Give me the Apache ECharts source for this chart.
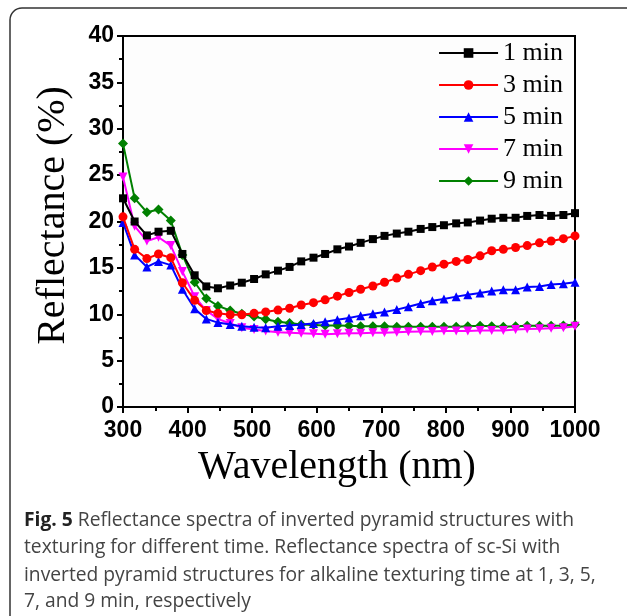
<!DOCTYPE html>
<html><head><meta charset="utf-8">
<script src="https://cdn.jsdelivr.net/npm/echarts@6/dist/echarts.min.js"></script>
<style>html,body{margin:0;padding:0;background:#fff}#c{width:627px;height:616px}</style>
</head><body><div id="c"></div>
<script>
const wavelengths = [300,318,337,355,374,392,411,429,447,466,484,503,521,540,558,576,595,613,632,650,668,687,705,724,742,761,779,797,816,834,853,871,889,908,926,945,963,982,1000];
const min1 = [22.5,20.0,18.5,18.9,19.0,16.5,14.2,13.0,12.8,13.1,13.4,13.8,14.3,14.7,15.1,15.7,16.1,16.5,17.0,17.3,17.7,18.1,18.45,18.7,18.9,19.2,19.4,19.6,19.8,19.9,20.1,20.3,20.4,20.4,20.6,20.7,20.6,20.7,20.9];
const min3 = [20.5,17.0,16.0,16.5,16.1,13.4,11.5,10.4,10.1,9.95,9.95,10.1,10.25,10.45,10.65,11.0,11.25,11.55,11.95,12.35,12.7,13.05,13.45,13.9,14.3,14.7,15.1,15.4,15.7,15.9,16.3,16.85,17.0,17.2,17.4,17.7,17.9,18.15,18.45];
const min5 = [19.9,16.4,15.1,15.7,15.3,12.7,10.6,9.5,9.1,8.9,8.7,8.6,8.55,8.7,8.8,8.9,9.0,9.2,9.4,9.6,9.85,10.05,10.25,10.5,10.8,11.15,11.45,11.65,11.9,12.1,12.3,12.5,12.65,12.65,12.95,13.0,13.2,13.3,13.45];
const min7 = [24.8,19.5,17.9,18.3,17.4,14.6,11.9,10.4,9.5,9.0,8.55,8.35,8.2,8.05,8.0,7.95,7.9,7.85,7.9,7.95,7.95,8.0,8.0,8.05,8.1,8.15,8.15,8.2,8.2,8.2,8.25,8.25,8.25,8.35,8.4,8.45,8.5,8.55,8.7];
const min9 = [28.4,22.5,21.0,21.3,20.1,16.4,13.45,11.7,10.9,10.4,10.05,9.75,9.45,9.2,9.05,8.9,8.85,8.8,8.8,8.75,8.7,8.7,8.7,8.65,8.65,8.65,8.65,8.65,8.65,8.7,8.75,8.7,8.65,8.7,8.75,8.75,8.75,8.8,8.9];
const seriesNames = ['1 min','3 min','5 min','7 min','9 min'];
const xTicks = {min:300, max:1000, step:100};
const yTicks = {min:0, max:40, step:5};
const captionBold = ['Fig. 5', '', '', ''];
const captionLines = [
 ' Reflectance spectra of inverted pyramid structures with',
 'texturing for different time. Reflectance spectra of sc-Si with',
 'inverted pyramid structures for alkaline texturing time at 1, 3, 5,',
 '7, and 9 min, respectively'
];

const allVals = [min1,min3,min5,min7,min9];
const colors = ['#000000','#ff0000','#0000ff','#ff00ff','#008000'];
const symbols = ['rect','circle','triangle','triangle','diamond'];
const symSizes = [8,9,9,9,10];
const symRot = [0,0,0,180,0];

const chart = echarts.init(document.getElementById('c'), null, {renderer:'canvas'});

const capFont = 20;
const capFamily = '"Open Sans", "Noto Sans", sans-serif';
const cv = document.createElement('canvas').getContext('2d');
function w(txt, bold){ cv.font = (bold?'bold ':'') + capFont + 'px ' + capFamily; return cv.measureText(txt).width; }
const line1W = w(captionBold[0], true) + w(captionLines[0], false);
const capScale = 550 / line1W;
const capLeft = 24, capY = [520,547,575,601];
const graphics = [{
  type:'rect', shape:{x:10,y:8,width:700,height:700,r:12},
  style:{fill:'none',stroke:'#333',lineWidth:1.5}, silent:true, z:-1
}];
captionLines.forEach((line, li) => {
  graphics.push({type:'text', x:capLeft, y:capY[li], scaleX:capScale, silent:true,
    style:{text:'{b|' + captionBold[li] + '}{r|' + line + '}', verticalAlign:'middle',
      rich:{
        b:{fontFamily:capFamily, fontWeight:'bold', fontSize:capFont, fill:'#222', color:'#222'},
        r:{fontFamily:capFamily, fontSize:capFont, fill:'#444', color:'#444'}
      }}});
});

const series = seriesNames.map((name,i)=>({
  name, type:'line',
  data: wavelengths.map((x,j)=>[x, allVals[i][j]]),
  symbol: symbols[i], symbolSize: symSizes[i], symbolRotate: symRot[i],
  showAllSymbol:true, smooth:false,
  lineStyle:{color:colors[i], width:2},
  itemStyle:{color:colors[i]},
  z: 10 - i
}));

chart.setOption({
  animation:false,
  backgroundColor:'#fff',
  grid:{left:123, right:52, top:36, bottom:209, show:true, borderColor:'#000', borderWidth:2, backgroundColor:'#fdfdfd'},
  legend:{
    orient:'vertical', right:59, top:35, itemWidth:59, itemHeight:12, itemGap:6,
    textStyle:{fontFamily:'"Liberation Serif", "Times New Roman", serif', fontSize:26, color:'#000', lineHeight:26},
    data: seriesNames
  },
  xAxis:{
    type:'value', min:xTicks.min, max:xTicks.max, interval:xTicks.step,
    name:'Wavelength (nm)', nameLocation:'middle', nameGap:40,
    nameTextStyle:{fontFamily:'"Liberation Serif", "Times New Roman", serif', fontSize:40, color:'#000', padding:[0,24,0,0]},
    axisLine:{lineStyle:{color:'#000', width:2}},
    axisTick:{inside:false, length:6, lineStyle:{width:2, color:'#000'}},
    minorTick:{show:true, splitNumber:2, length:4, lineStyle:{width:2, color:'#000'}},
    splitLine:{show:false},
    axisLabel:{fontFamily:'"Liberation Sans", Arial, sans-serif', fontWeight:'bold', fontSize:23, color:'#000', margin:12,
      formatter:(v)=>String(v)}
  },
  yAxis:{
    type:'value', min:yTicks.min, max:yTicks.max, interval:yTicks.step,
    name:'Reflectance (%)', nameLocation:'middle', nameGap:50,
    nameTextStyle:{fontFamily:'"Liberation Serif", "Times New Roman", serif', fontSize:40, color:'#000', padding:[0,0,0,12]},
    axisLine:{lineStyle:{color:'#000', width:2}},
    axisTick:{inside:false, length:6, lineStyle:{width:2, color:'#000'}},
    minorTick:{show:true, splitNumber:2, length:4, lineStyle:{width:2, color:'#000'}},
    splitLine:{show:false},
    axisLabel:{fontFamily:'"Liberation Sans", Arial, sans-serif', fontWeight:'bold', fontSize:23, color:'#000', margin:9,
      formatter:(v)=>String(v)}
  },
  graphic: graphics,
  series
});
</script></body></html>
